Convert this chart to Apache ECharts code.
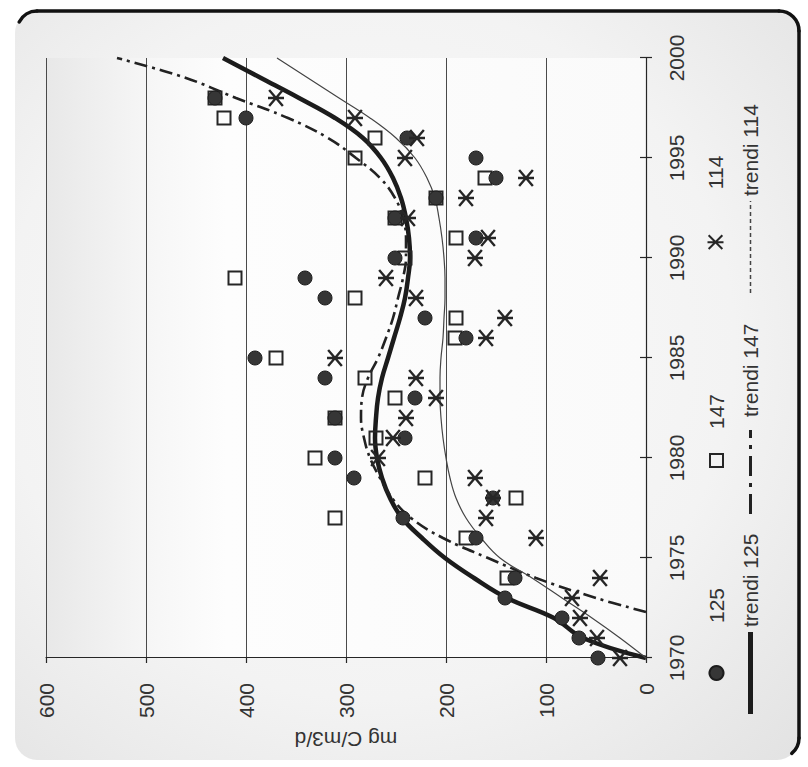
<!DOCTYPE html>
<html>
<head>
<meta charset="utf-8">
<title>mg C/m3/d 1970-2000</title>
<script src="https://cdn.jsdelivr.net/npm/echarts@6/dist/echarts.min.js"></script>
<style>
  html, body { margin: 0; padding: 0; background: #ffffff; width: 808px; height: 767px; overflow: hidden; }
  /* the chart is laid out upright and then turned a quarter turn counter-clockwise */
  #chart { position: absolute; left: 0; top: 767px; width: 767px; height: 808px;
           transform-origin: 0 0; transform: rotate(-90deg); }
</style>
</head>
<body>
<div id="chart"></div>
<script>
// Sampling years of the station series
const years = [1970, 1971, 1972, 1973, 1974, 1975, 1976, 1977, 1978, 1979,
               1980, 1981, 1982, 1983, 1984, 1985, 1986, 1987, 1988, 1989,
               1990, 1991, 1992, 1993, 1994, 1995, 1996, 1997, 1998];

// Station values, mg C/m3/d (null = no sample that year)
const site125 = [48, 67, 84, 141, 131, null, 170, 243, 153, 292,
                 311, 241, 311, 231, 321, 391, 180, 221, 321, 341,
                 251, 170, 251, 210, 150, 170, 239, 400, 431];
const site147 = [null, null, null, null, 139, null, 180, 311, 130, 221,
                 331, 270, 311, 251, 281, 370, 191, 190, 291, 411,
                 241, 190, 251, 210, 161, 291, 271, 422, 431];
const site114 = [26, 49, 66, 74, 46, null, 110, 160, 153, 171,
                 268, 253, 240, 210, 230, 311, 160, 141, 230, 260,
                 171, 158, 238, 180, 120, 241, 229, 291, 370];

// Fitted trend curves
const trendYears = [1970, 1971, 1972, 1973, 1974, 1975, 1976, 1977, 1978, 1979,
                    1980, 1981, 1982, 1983, 1984, 1985, 1986, 1987, 1988, 1989,
                    1990, 1991, 1992, 1993, 1994, 1995, 1996, 1997, 1998, 1999, 2000];
const trend125 = [0, 63, 92, 139, 172, 201, 224, 244, 256, 264,
                  269, 271, 270, 268, 264, 258, 252, 246, 241, 238,
                  236, 237, 240, 245, 253, 265, 283, 311, 347, 385, 423];
const trend147Years = [1972.3, 1973, 1974, 1975, 1976, 1977, 1978, 1979,
                       1980, 1981, 1982, 1983, 1984, 1985, 1986, 1987, 1988, 1989,
                       1990, 1991, 1992, 1993, 1994, 1995, 1996, 1997, 1998, 1999, 2000];
const trend147 = [0, 50, 110, 158, 203, 235, 254, 266,
                  276, 282, 285, 284, 278, 268, 260, 253, 248, 243,
                  240, 240, 243, 251, 266, 290, 318, 358, 410, 460, 529];
const trend114 = [0, 26, 54, 84, 114, 146, 165, 180, 190, 196,
                  200, 203, 205, 206, 206, 205, 203, 202, 201, 201,
                  202, 204, 207, 211, 219, 231, 250, 276, 307, 338, 369];

// Axis tick labels
const yearTicks = [1970, 1975, 1980, 1985, 1990, 1995, 2000];
const valueTicks = [0, 100, 200, 300, 400, 500, 600];

const INK = '#262626';
const FONT = '"Liberation Sans", Arial, Helvetica, sans-serif';

const pairs = (xs, ys) => xs.map((x, i) => (ys[i] == null ? null : [x, ys[i]])).filter(Boolean);

// legend swatch made of filled runs: pattern = [run, gap, run, gap, ...]
function dashIcon(total, pattern, h) {
  let d = '', x = 0, k = 0;
  while (x < total) {
    const len = Math.min(pattern[k % pattern.length], total - x);
    if (k % 2 === 0) d += 'M' + x + ',0h' + len + 'v' + h + 'h-' + len + 'z';
    x += pattern[k % pattern.length];
    k++;
  }
  return 'path://' + d;
}

const chart = echarts.init(document.getElementById('chart'), null,
  { renderer: 'svg', width: 767, height: 808 });

const yearStep = yearTicks[1] - yearTicks[0];
const valueStep = valueTicks[1] - valueTicks[0];
const plainNumber = v => String(v);

const legendText = { fontFamily: FONT, fontSize: 21, color: '#333' };

// frame: heavy rounded edge along the right and bottom of the panel
const frameStyle = { fill: 'none', stroke: '#111111', lineWidth: 3.5, lineCap: 'round' };
const frame = [
  { type: 'arc', z: 100, silent: true, shape: { cx: 736, cy: 37, r: 20, startAngle: -Math.PI * 0.35, endAngle: 0 }, style: frameStyle },
  { type: 'line', z: 100, silent: true, shape: { x1: 756, y1: 37, x2: 756, y2: 779 }, style: frameStyle },
  { type: 'arc', z: 100, silent: true, shape: { cx: 736, cy: 779, r: 20, startAngle: 0, endAngle: Math.PI / 2 }, style: frameStyle },
  { type: 'line', z: 100, silent: true, shape: { x1: 736, y1: 799, x2: 29, y2: 799 }, style: frameStyle },
  { type: 'arc', z: 100, silent: true, shape: { cx: 29, cy: 779, r: 20, startAngle: Math.PI / 2, endAngle: Math.PI * 0.78 }, style: frameStyle }
];

const lineLegendStyle = { borderWidth: 0 };

const option = {
  backgroundColor: '#ffffff',
  animation: false,
  textStyle: { fontFamily: FONT, color: '#333' },
  grid: { left: 109, right: 58, top: 46, bottom: 162, outerBoundsMode: 'none', containLabel: false },
  xAxis: [
    {
      type: 'value',
      min: yearTicks[0], max: yearTicks[yearTicks.length - 1], interval: yearStep,
      axisLine: { show: true, onZero: false, lineStyle: { color: INK, width: 1.2 } },
      axisTick: { show: true, length: 6, lineStyle: { color: INK, width: 1.2 } },
      axisLabel: { fontFamily: FONT, fontSize: 21, color: '#333', margin: 20, formatter: plainNumber },
      splitLine: { show: false }
    },
    {
      // inner half of the crossing year ticks
      type: 'value', position: 'bottom',
      min: yearTicks[0], max: yearTicks[yearTicks.length - 1], interval: yearStep,
      axisLine: { show: false },
      axisTick: { show: true, inside: true, length: 6, lineStyle: { color: INK, width: 1.2 } },
      axisLabel: { show: false },
      splitLine: { show: false }
    }
  ],
  yAxis: {
    type: 'value',
    min: valueTicks[0], max: valueTicks[valueTicks.length - 1], interval: valueStep,
    axisLine: { show: true, lineStyle: { color: INK, width: 1.2 } },
    axisTick: { show: true, length: 5, lineStyle: { color: INK, width: 1.2 } },
    axisLabel: { fontFamily: FONT, fontSize: 21, color: '#333', margin: 25, formatter: plainNumber },
    splitLine: { show: true, lineStyle: { color: '#4a4a4a', width: 1 } },
    name: 'mg C/m3/d', nameLocation: 'middle', nameRotate: 90, nameGap: 71,
    nameTextStyle: { fontFamily: FONT, fontSize: 21, color: '#333' }
  },
  legend: [
    { data: ['125'], left: 86, top: 706, padding: 0, itemWidth: 14, itemHeight: 14,
      textStyle: Object.assign({ padding: [0, 0, 0, 38] }, legendText) },
    { data: ['147'], left: 299, top: 706, padding: 0, itemWidth: 13, itemHeight: 13,
      textStyle: Object.assign({ padding: [0, 0, 0, 20] }, legendText) },
    { data: ['114'], left: 517, top: 705, padding: 0, itemWidth: 16, itemHeight: 16,
      textStyle: Object.assign({ padding: [0, 0, 0, 40] }, legendText) },
    { data: ['trendi 125'], left: 53, top: 740, padding: 0, itemWidth: 82, itemHeight: 5,
      icon: 'rect', itemStyle: lineLegendStyle, textStyle: legendText },
    { data: ['trendi 147'], left: 253, top: 740, padding: 0, itemWidth: 84, itemHeight: 3,
      icon: dashIcon(84, [20, 7, 4, 7], 3), itemStyle: lineLegendStyle,
      textStyle: Object.assign({ padding: [0, 0, 0, 8] }, legendText) },
    { data: ['trendi 114'], left: 474, top: 740, padding: 0, itemWidth: 92, itemHeight: 1.5,
      icon: dashIcon(92, [4, 3], 1.5), itemStyle: lineLegendStyle, textStyle: legendText }
  ],
  graphic: [
    {
      type: 'rect', z: -20, silent: true,
      shape: { x: 7, y: 15, width: 749, height: 784, r: 22 },
      style: { fill: new echarts.graphic.RadialGradient(0.55, 0.45, 0.78, [
        { offset: 0, color: '#fbfbfb' }, { offset: 0.6, color: '#f3f3f3' }, { offset: 1, color: '#e2e2e2' }]) }
    },
    {
      type: 'rect', z: -19, silent: true,
      shape: { x: 109, y: 46, width: 600, height: 600 },
      style: { fill: new echarts.graphic.LinearGradient(0, 0, 0, 1, [
        { offset: 0, color: '#e8e8e8' }, { offset: 0.17, color: '#f6f6f6' },
        { offset: 0.3, color: '#fdfdfd' }, { offset: 1, color: '#fafafa' }]) }
    }
  ].concat(frame),
  series: [
    {
      name: '125', type: 'scatter', z: 4,
      data: pairs(years, site125),
      symbol: 'circle', symbolSize: 14,
      itemStyle: { color: '#363636', borderColor: '#1c1c1c', borderWidth: 1, opacity: 1 }
    },
    {
      name: '147', type: 'scatter', z: 3,
      data: pairs(years, site147),
      symbol: 'rect', symbolSize: 13,
      itemStyle: { color: 'rgba(255,255,255,0)', borderColor: INK, borderWidth: 2, opacity: 1 }
    },
    {
      name: '114', type: 'scatter', z: 5,
      data: pairs(years, site114),
      symbol: 'path://M0,1L12,13M12,1L0,13M6,0L6,14', symbolSize: 16,
      itemStyle: { color: 'rgba(0,0,0,0)', borderColor: INK, borderWidth: 2.4, opacity: 1 }
    },
    {
      name: 'trendi 125', type: 'line', z: 2,
      data: pairs(trendYears, trend125),
      smooth: 0.4, symbol: 'none',
      lineStyle: { color: '#1c1c1c', width: 4.5 },
      itemStyle: { color: '#1c1c1c' }
    },
    {
      name: 'trendi 147', type: 'line', z: 2,
      data: pairs(trend147Years, trend147),
      smooth: 0.4, symbol: 'none',
      lineStyle: { color: '#222222', width: 2.6, type: [13, 5, 3, 5] },
      itemStyle: { color: '#222222' }
    },
    {
      name: 'trendi 114', type: 'line', z: 2,
      data: pairs(trendYears, trend114),
      smooth: 0.4, symbol: 'none',
      lineStyle: { color: '#444444', width: 1.2 },
      itemStyle: { color: '#444444' }
    }
  ]
};

chart.setOption(option);
</script>
</body>
</html>
